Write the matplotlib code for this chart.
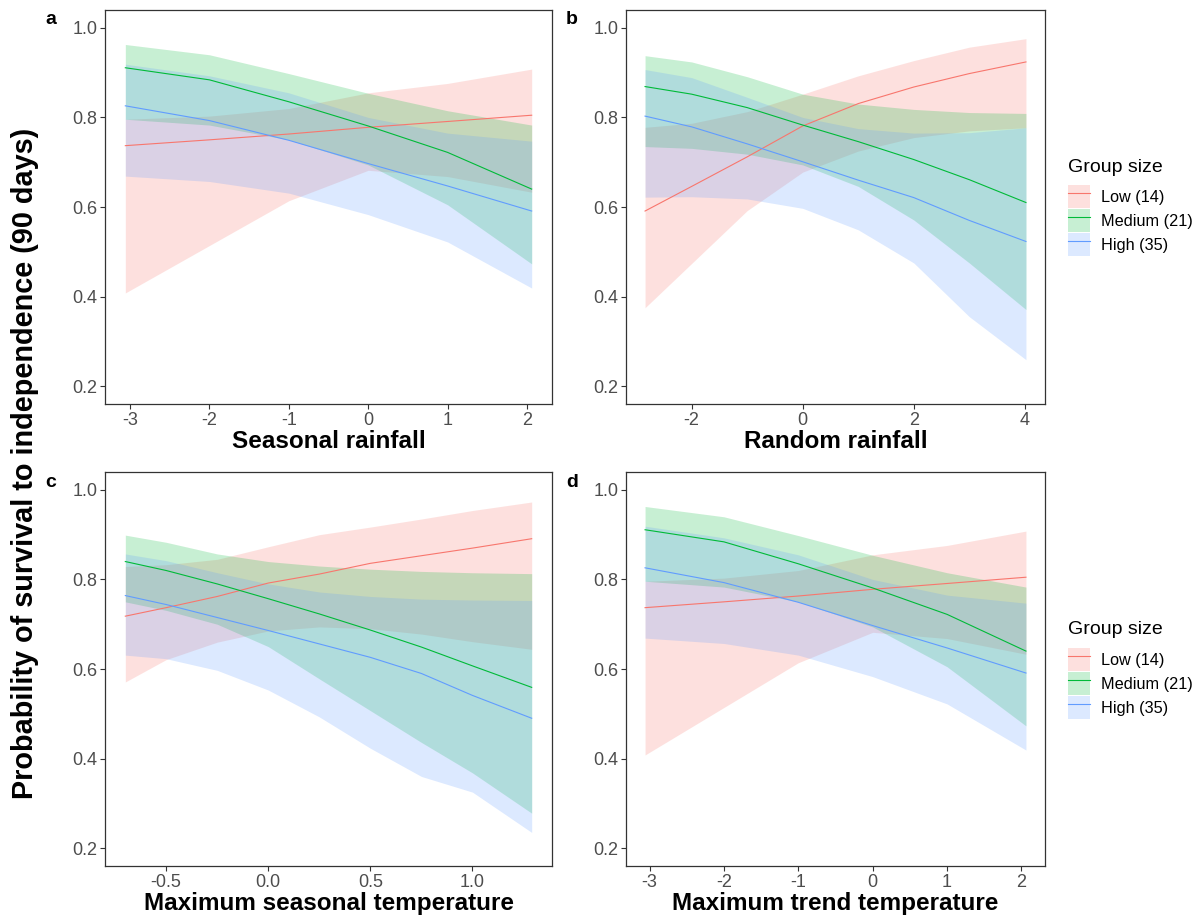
import matplotlib
matplotlib.use("Agg")
import matplotlib.pyplot as plt
from matplotlib.lines import Line2D
from matplotlib.patches import Patch

plt.rcParams["font.family"] = ["Liberation Sans", "DejaVu Sans"]

GROUPS = ["Low (14)", "Medium (21)", "High (35)"]
COLORS = ["#F8766D", "#00BA38", "#619CFF"]

# ---------------------------------------------------------------------------
# Predicted survival (fit, lower, upper)
# ---------------------------------------------------------------------------

# a / d : seasonal rainfall and maximum trend temperature (same estimates)
x_season = [-3.06, -2, -1, 0, 1, 2.06]
low_fit_a = [0.737, 0.750, 0.763, 0.778, 0.791, 0.805]
low_lo_a = [0.408, 0.514, 0.614, 0.682, 0.668, 0.633]
low_hi_a = [0.796, 0.803, 0.820, 0.855, 0.876, 0.908]
med_fit_a = [0.911, 0.884, 0.835, 0.781, 0.722, 0.640]
med_lo_a = [0.796, 0.783, 0.750, 0.694, 0.605, 0.473]
med_hi_a = [0.963, 0.940, 0.898, 0.854, 0.815, 0.783]
high_fit_a = [0.826, 0.793, 0.749, 0.697, 0.647, 0.591]
high_lo_a = [0.669, 0.657, 0.631, 0.583, 0.522, 0.419]
high_hi_a = [0.919, 0.893, 0.855, 0.800, 0.765, 0.747]

# b : random rainfall
x_random = [-2.84, -2, -1, 0, 1, 2, 3, 4.02]
low_fit_b = [0.591, 0.646, 0.712, 0.781, 0.831, 0.868, 0.898, 0.924]
low_lo_b = [0.375, 0.474, 0.592, 0.678, 0.725, 0.755, 0.770, 0.777]
low_hi_b = [0.778, 0.787, 0.813, 0.852, 0.893, 0.927, 0.957, 0.976]
med_fit_b = [0.869, 0.852, 0.822, 0.783, 0.746, 0.706, 0.661, 0.610]
med_lo_b = [0.735, 0.731, 0.718, 0.694, 0.646, 0.571, 0.475, 0.371]
med_hi_b = [0.938, 0.924, 0.891, 0.852, 0.830, 0.818, 0.811, 0.809]
high_fit_b = [0.803, 0.779, 0.741, 0.701, 0.660, 0.621, 0.570, 0.523]
high_lo_b = [0.622, 0.623, 0.618, 0.597, 0.549, 0.475, 0.355, 0.259]
high_hi_b = [0.907, 0.889, 0.845, 0.800, 0.775, 0.765, 0.766, 0.777]

# c : maximum seasonal temperature
x_maxtemp = [-0.70, -0.5, -0.25, 0, 0.25, 0.5, 0.75, 1.0, 1.29]
low_fit_c = [0.718, 0.737, 0.762, 0.792, 0.812, 0.836, 0.853, 0.870, 0.891]
low_lo_c = [0.571, 0.621, 0.660, 0.685, 0.694, 0.690, 0.678, 0.661, 0.644]
low_hi_c = [0.829, 0.833, 0.845, 0.873, 0.900, 0.917, 0.935, 0.954, 0.973]
med_fit_c = [0.840, 0.820, 0.790, 0.757, 0.723, 0.687, 0.649, 0.607, 0.559]
med_lo_c = [0.750, 0.731, 0.700, 0.650, 0.578, 0.507, 0.436, 0.368, 0.278]
med_hi_c = [0.899, 0.883, 0.857, 0.840, 0.830, 0.823, 0.818, 0.815, 0.813]
high_fit_c = [0.764, 0.744, 0.715, 0.686, 0.656, 0.626, 0.590, 0.541, 0.490]
high_lo_c = [0.631, 0.623, 0.597, 0.553, 0.493, 0.423, 0.360, 0.325, 0.235]
high_hi_c = [0.857, 0.842, 0.815, 0.790, 0.772, 0.762, 0.756, 0.754, 0.753]

y_ticks = [0.2, 0.4, 0.6, 0.8, 1.0]

panels = [
    ("a", "Seasonal rainfall", x_season,
     [(low_fit_a, low_lo_a, low_hi_a), (med_fit_a, med_lo_a, med_hi_a), (high_fit_a, high_lo_a, high_hi_a)],
     [-3, -2, -1, 0, 1, 2], None),
    ("b", "Random rainfall", x_random,
     [(low_fit_b, low_lo_b, low_hi_b), (med_fit_b, med_lo_b, med_hi_b), (high_fit_b, high_lo_b, high_hi_b)],
     [-2, 0, 2, 4], None),
    ("c", "Maximum seasonal temperature", x_maxtemp,
     [(low_fit_c, low_lo_c, low_hi_c), (med_fit_c, med_lo_c, med_hi_c), (high_fit_c, high_lo_c, high_hi_c)],
     [-0.5, 0.0, 0.5, 1.0], "{:.1f}"),
    ("d", "Maximum trend temperature", x_season,
     [(low_fit_a, low_lo_a, low_hi_a), (med_fit_a, med_lo_a, med_hi_a), (high_fit_a, high_lo_a, high_hi_a)],
     [-3, -2, -1, 0, 1, 2], None),
]

W, H = 1203, 924
# axes boxes in pixels: left, top, right, bottom
boxes = [(105, 10, 552, 404), (626, 10, 1045, 404),
         (105, 472, 552, 866), (626, 472, 1045, 866)]

fig = plt.figure(figsize=(W / 100, H / 100), dpi=100)

for (tag, xlabel, xs, series, xticks, fmt), (l, t, r, b) in zip(panels, boxes):
    ax = fig.add_axes([l / W, 1 - b / H, (r - l) / W, (b - t) / H])
    for (fit, lo, hi), col in zip(series, COLORS):
        ax.fill_between(xs, lo, hi, color=col, alpha=0.22, linewidth=0)
    for (fit, lo, hi), col in zip(series, COLORS):
        ax.plot(xs, fit, color=col, linewidth=0.8)

    span = xs[-1] - xs[0]
    ax.set_xlim(xs[0] - 0.05 * span, xs[-1] + 0.05 * span)
    ax.set_ylim(0.16, 1.04)
    ax.set_yticks(y_ticks)
    ax.set_yticklabels([f"{v:.1f}" for v in y_ticks])
    ax.set_xticks(xticks)
    if fmt:
        ax.set_xticklabels([fmt.format(v) for v in xticks])
    else:
        ax.set_xticklabels([str(v) for v in xticks])

    for sp in ax.spines.values():
        sp.set_color("#333333")
        sp.set_linewidth(0.9)
    ax.tick_params(length=3.5, width=0.8, color="#333333", labelcolor="#4D4D4D",
                   labelsize=13, pad=2)
    ax.set_xlabel(xlabel, fontsize=17.5, fontweight="bold", labelpad=1)

    fig.text((l - 54) / W, 1 - (t + 10) / H, tag, fontsize=14, fontweight="bold",
             ha="center", va="center")

fig.text(25 / W, 1 - 463 / H, "Probability of survival to independence (90 days)",
         rotation=90, fontsize=20.8, fontweight="bold", ha="center", va="center")

handles = [(Patch(facecolor=c, alpha=0.22, edgecolor="none"),
            Line2D([], [], color=c, linewidth=0.8)) for c in COLORS]

# one legend next to each row
for title_y in (167, 630):
    fig.text(1068 / W, 1 - title_y / H, "Group size", fontsize=14,
             ha="left", va="center")
    fig.legend(handles, GROUPS, loc="upper left",
               bbox_to_anchor=(1068 / W, 1 - (title_y + 18) / H),
               frameon=False, fontsize=11.7,
               handlelength=1.35, handleheight=1.8, labelspacing=0.06,
               handletextpad=0.7, borderpad=0, borderaxespad=0)

fig.savefig("out.png", dpi=100)
